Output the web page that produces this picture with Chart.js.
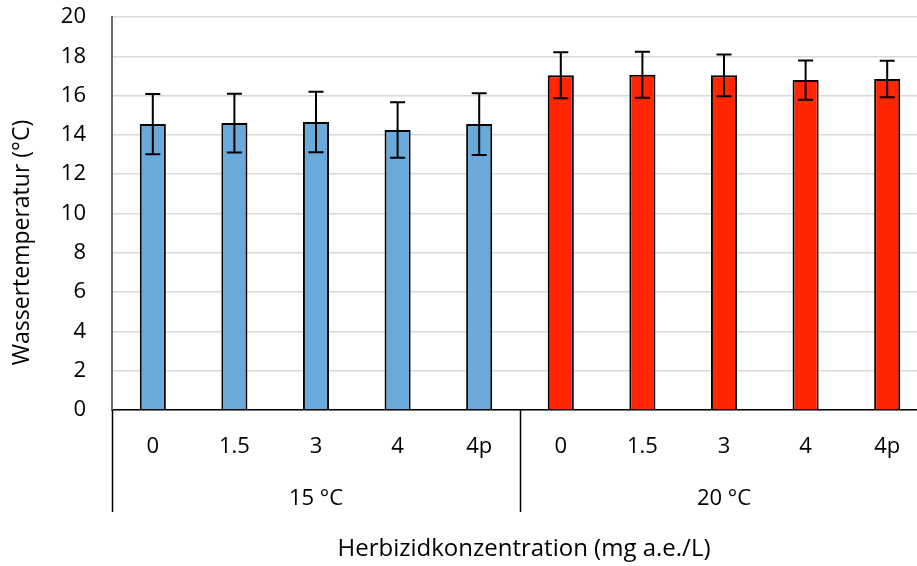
<!DOCTYPE html>
<html>
<head>
<meta charset="utf-8">
<script src="https://cdn.jsdelivr.net/npm/chart.js@4/dist/chart.umd.min.js"></script>
<style>
  html, body { margin: 0; padding: 0; background: #ffffff; }
  #wrap { width: 917px; height: 566px; overflow: hidden; }
  #c { display: block; }
</style>
</head>
<body>
<div id="wrap"><canvas id="c" width="929" height="566"></canvas></div>
<script>
// Herbicide concentrations per temperature group
const concentrations = ['0', '1.5', '3', '4', '4p'];
const groups = ['15 °C', '20 °C'];

// Mean water temperature (°C) and standard deviation
const mean15 = [14.55, 14.6, 14.66, 14.25, 14.55];
const sd15   = [1.53, 1.5, 1.54, 1.41, 1.57];
const mean20 = [17.03, 17.06, 17.03, 16.79, 16.84];
const sd20   = [1.17, 1.17, 1.06, 1.0, 0.93];

const yTicks = [0, 2, 4, 6, 8, 10, 12, 14, 16, 18, 20];

const yTitle = 'Wassertemperatur (°C)';
const xTitle = 'Herbizidkonzentration (mg a.e./L)';

const groupColors = ['#6aaadb', '#ff2600'];
const FONT = '"Open Sans", Lato, sans-serif';
const FS = 22;

const labels = groups.flatMap(() => concentrations);
const values = mean15.concat(mean20);
const errors = sd15.concat(sd20);
const colors = groups.flatMap((g, gi) => concentrations.map(() => groupColors[gi]));

// Whiskers for the standard deviation of each bar
const errorBars = {
  id: 'errorBars',
  afterDatasetsDraw(chart) {
    const { ctx, scales: { y } } = chart;
    const meta = chart.getDatasetMeta(0);
    ctx.save();
    ctx.strokeStyle = '#000000';
    ctx.lineWidth = 2;
    meta.data.forEach((bar, i) => {
      const top = y.getPixelForValue(values[i] + errors[i]);
      const bot = y.getPixelForValue(values[i] - errors[i]);
      const cap = 7.5;
      ctx.beginPath();
      ctx.moveTo(bar.x, top); ctx.lineTo(bar.x, bot);
      ctx.moveTo(bar.x - cap, top); ctx.lineTo(bar.x + cap, top);
      ctx.moveTo(bar.x - cap, bot); ctx.lineTo(bar.x + cap, bot);
      ctx.stroke();
    });
    ctx.restore();
  }
};

// Second level of the category axis (group dividers and names) and the axis titles
const groupAxis = {
  id: 'groupAxis',
  afterDraw(chart) {
    const { ctx, scales: { x }, chartArea } = chart;
    const n = concentrations.length;
    const lineBottom = chartArea.bottom + 102;
    const half = (x.getPixelForValue(1) - x.getPixelForValue(0)) / 2;
    ctx.save();
    ctx.strokeStyle = '#000000';
    ctx.lineWidth = 1.5;
    ctx.fillStyle = '#000000';
    ctx.font = FS + 'px ' + FONT;
    ctx.textAlign = 'center';
    ctx.textBaseline = 'middle';
    groups.forEach((g, gi) => {
      const first = gi * n, last = first + n - 1;
      const left = x.getPixelForValue(first) - half;
      const right = x.getPixelForValue(last) + half;
      ctx.beginPath();
      ctx.moveTo(Math.round(left) + 0.5, chartArea.bottom);
      ctx.lineTo(Math.round(left) + 0.5, lineBottom);
      ctx.stroke();
      ctx.fillText(g, (left + right) / 2, chartArea.bottom + 89);
    });

    // axis titles
    ctx.font = '24px ' + FONT;
    ctx.fillText(xTitle, (chartArea.left + chartArea.right) / 2 + 4, 549);
    ctx.font = '23px ' + FONT;
    ctx.translate(22, (chartArea.top + lineBottom) / 2 - 22);
    ctx.rotate(-Math.PI / 2);
    ctx.fillText(yTitle, 0, 0);
    ctx.restore();
  }
};

new Chart(document.getElementById('c'), {
  type: 'bar',
  data: {
    labels: labels,
    datasets: [{
      data: values,
      backgroundColor: colors,
      borderColor: '#000000',
      borderWidth: 2,
      categoryPercentage: 1.0,
      barPercentage: 0.32
    }]
  },
  options: {
    responsive: false,
    animation: false,
    devicePixelRatio: 1,
    layout: { padding: { top: 17, right: 1, left: 0, bottom: 0 } },
    plugins: { legend: { display: false }, tooltip: { enabled: false } },
    scales: {
      x: {
        grid: { display: false, drawTicks: false },
        border: { display: true, color: '#000000', width: 1.5 },
        ticks: { color: '#000000', font: { family: FONT, size: FS }, padding: 24, maxRotation: 0, autoSkip: false },
        afterFit(scale) { scale.height = 156; }
      },
      y: {
        min: 0, max: 20,
        afterBuildTicks(scale) { scale.ticks = yTicks.map(v => ({ value: v })); },
        grid: { color: '#d9d9d9', lineWidth: 1.5, drawTicks: false },
        border: { display: true, color: '#6b6b6b', width: 2 },
        ticks: { color: '#000000', font: { family: FONT, size: FS }, padding: 26 },
        afterFit(scale) {
          scale.width = 112;
          scale.paddingTop = 0;
          scale.paddingBottom = 0;
        }
      }
    }
  },
  plugins: [errorBars, groupAxis]
});
</script>
</body>
</html>
